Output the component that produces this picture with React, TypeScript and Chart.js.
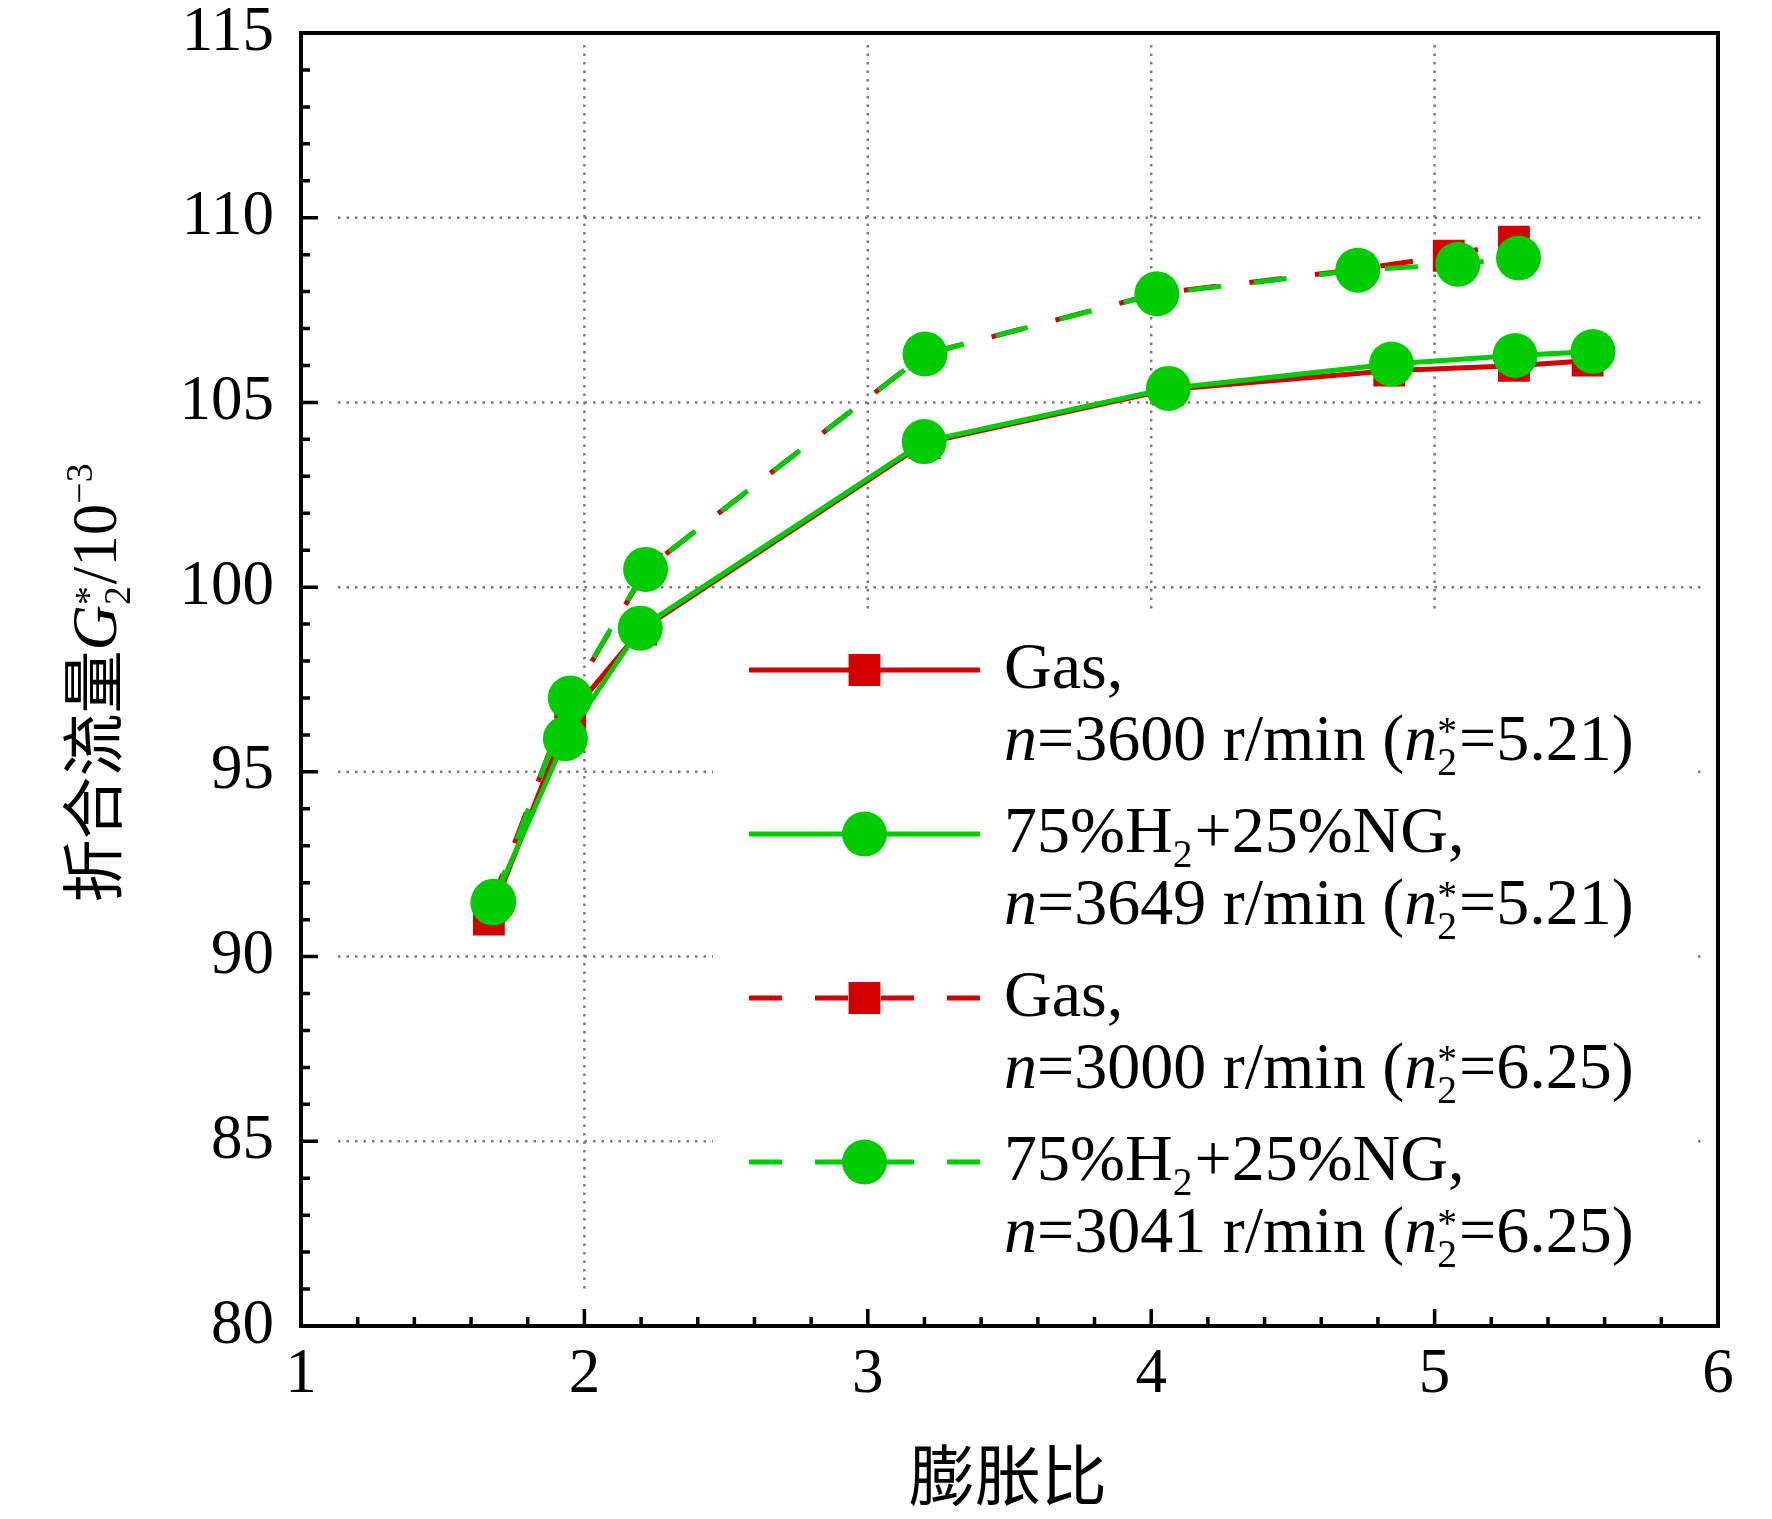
import React, { useEffect, useRef } from "react";
import { Chart, registerables, ChartConfiguration, Plugin } from "chart.js";
import { drawPoint } from "chart.js/helpers";

Chart.register(...registerables);

const RED = "#d40000";
const GREEN = "#00cc00";
const SERIF = "'Liberation Serif', 'Times New Roman', serif";
const CJK = "'Noto Sans CJK SC', 'Noto Sans CJK JP', sans-serif";

// Gas, n=3600 r/min (solid, squares)
const gas3600X = [1.663, 1.95, 2.2, 3.2, 4.06, 4.84, 5.28, 5.54];
const gas3600Y = [91.0, 96.55, 98.85, 103.9, 105.35, 105.86, 105.99, 106.13];
// 75%H2+25%NG, n=3649 r/min (solid, circles)
const h2n3649X = [1.677, 1.933, 2.197, 3.199, 4.061, 4.848, 5.284, 5.559];
const h2n3649Y = [91.45, 95.9, 98.89, 103.94, 105.38, 106.04, 106.27, 106.38];
// Gas, n=3000 r/min (dashed, squares)
const gas3000X = [1.67, 1.95, 2.22, 3.2, 4.02, 4.73, 5.05, 5.28];
const gas3000Y = [91.4, 97.0, 100.5, 106.3, 107.95, 108.6, 108.97, 109.35];
// 75%H2+25%NG, n=3041 r/min (dashed, circles)
const h2n3041X = [1.68, 1.95, 2.216, 3.202, 4.02, 4.729, 5.082, 5.296];
const h2n3041Y = [91.5, 97.0, 100.48, 106.31, 107.94, 108.58, 108.74, 108.91];

const xTicks = [1, 2, 3, 4, 5, 6];
const yTicks = [80, 85, 90, 95, 100, 105, 110, 115];

type Run = { t?: string; italic?: boolean; cjk?: boolean; sub?: string; sup?: string };

const legendEntries: { color: string; style: "rect" | "circle"; dashed: boolean; lines: Run[][] }[] = [
  {
    color: RED, style: "rect", dashed: false,
    lines: [[{ t: "Gas," }], [{ t: "n", italic: true }, { t: "=3600 r/min (" }, { t: "n", italic: true }, { sub: "2", sup: "*" }, { t: "=5.21)" }]],
  },
  {
    color: GREEN, style: "circle", dashed: false,
    lines: [[{ t: "75%H" }, { sub: "2" }, { t: "+25%NG," }], [{ t: "n", italic: true }, { t: "=3649 r/min (" }, { t: "n", italic: true }, { sub: "2", sup: "*" }, { t: "=5.21)" }]],
  },
  {
    color: RED, style: "rect", dashed: true,
    lines: [[{ t: "Gas," }], [{ t: "n", italic: true }, { t: "=3000 r/min (" }, { t: "n", italic: true }, { sub: "2", sup: "*" }, { t: "=6.25)" }]],
  },
  {
    color: GREEN, style: "circle", dashed: true,
    lines: [[{ t: "75%H" }, { sub: "2" }, { t: "+25%NG," }], [{ t: "n", italic: true }, { t: "=3041 r/min (" }, { t: "n", italic: true }, { sub: "2", sup: "*" }, { t: "=6.25)" }]],
  },
];

const yTitle: Run[] = [
  { t: "折合流量", cjk: true },
  { t: "G", italic: true },
  { sub: "2", sup: "*" },
  { t: "/10" },
  { sup: "\u22123" },
];

function drawRich(ctx: CanvasRenderingContext2D, runs: Run[], x: number, y: number, size: number, cjkSize: number, draw = true): number {
  let cx = x;
  const small = size * 0.6;
  for (const r of runs) {
    if (r.t !== undefined) {
      ctx.font = r.cjk ? `${cjkSize}px ${CJK}` : `${r.italic ? "italic " : ""}${size}px ${SERIF}`;
      if (draw) ctx.fillText(r.t, cx, y);
      cx += ctx.measureText(r.t).width;
      continue;
    }
    ctx.font = `${small}px ${SERIF}`;
    let w = 0;
    if (r.sub !== undefined) {
      if (draw) ctx.fillText(r.sub, cx, y + size * 0.22);
      w = Math.max(w, ctx.measureText(r.sub).width);
    }
    if (r.sup !== undefined) {
      const raise = r.sub !== undefined ? size * 0.24 : size * 0.38;
      if (draw) ctx.fillText(r.sup, cx, y - raise);
      w = Math.max(w, ctx.measureText(r.sup).width);
    }
    cx += w + size * 0.03;
  }
  return cx - x;
}

const decor: Plugin<"line"> = {
  id: "decor",
  beforeDatasetsDraw(chart) {
    const { ctx, chartArea: a } = chart;
    const xs = chart.scales.x;
    const ys = chart.scales.y;
    ctx.save();
    ctx.strokeStyle = "#7a7a7a";
    ctx.lineWidth = 2.5;
    ctx.setLineDash([2.5, 6]);
    ctx.beginPath();
    xTicks.slice(1, -1).forEach((v) => {
      const px = xs.getPixelForValue(v);
      ctx.moveTo(px, a.top + 12);
      ctx.lineTo(px, a.bottom - 36);
    });
    yTicks.slice(1, -1).forEach((v) => {
      const py = ys.getPixelForValue(v);
      ctx.moveTo(a.left + 37, py);
      ctx.lineTo(a.right - 15, py);
    });
    ctx.stroke();
    ctx.setLineDash([]);
    // legend background hides the grid behind it
    ctx.fillStyle = "#ffffff";
    ctx.fillRect(a.left + 412, a.top + 579, 985, 690);
    ctx.restore();
  },
  afterDatasetsDraw(chart) {
    const { ctx, chartArea: a } = chart;
    const xs = chart.scales.x;
    const ys = chart.scales.y;
    ctx.save();

    // legend
    const lx0 = 749, lx1 = 980, tx = 1004;
    legendEntries.forEach((e, i) => {
      const base = 688 + i * 164;
      const my = base - 18;
      ctx.strokeStyle = e.color;
      ctx.lineWidth = 5;
      ctx.setLineDash(e.dashed ? [33, 33] : []);
      ctx.beginPath();
      ctx.moveTo(lx0, my);
      ctx.lineTo(lx1, my);
      ctx.stroke();
      ctx.setLineDash([]);
      ctx.fillStyle = e.color;
      drawPoint(ctx, { pointStyle: e.style, radius: 22.5, rotation: 0, borderWidth: 0 }, (lx0 + lx1) / 2, my);
      ctx.fillStyle = "#000";
      ctx.textAlign = "left";
      ctx.textBaseline = "alphabetic";
      e.lines.forEach((ln, j) => drawRich(ctx, ln, tx, base + j * 72, 66, 66));
    });

    // frame
    ctx.strokeStyle = "#000";
    ctx.lineWidth = 4;
    ctx.strokeRect(a.left, a.top, a.right - a.left, a.bottom - a.top);

    // inward ticks on bottom and left
    ctx.lineWidth = 3.5;
    ctx.beginPath();
    for (let v = 1; v <= 6.0001; v += 0.2) {
      const px = xs.getPixelForValue(v);
      const major = Math.abs(v - Math.round(v)) < 1e-6;
      ctx.moveTo(px, a.bottom);
      ctx.lineTo(px, a.bottom - (major ? 17 : 9));
    }
    for (let v = 80; v <= 115; v += 1) {
      const py = ys.getPixelForValue(v);
      const major = v % 5 === 0;
      ctx.moveTo(a.left, py);
      ctx.lineTo(a.left + (major ? 17 : 9), py);
    }
    ctx.stroke();

    // axis titles
    ctx.fillStyle = "#000";
    ctx.textBaseline = "alphabetic";
    ctx.font = `66px ${CJK}`;
    ctx.textAlign = "center";
    ctx.fillText("膨胀比", 1008, 1500);

    ctx.textAlign = "left";
    ctx.translate(94, 682);
    ctx.rotate(-Math.PI / 2);
    const w = drawRich(ctx, yTitle, 0, 0, 63, 63, false);
    drawRich(ctx, yTitle, -w / 2, 22, 63, 63, true);
    ctx.restore();
  },
};

function App(): JSX.Element {
  const chartRef = useRef<HTMLCanvasElement | null>(null);
  const chartInstance = useRef<Chart | null>(null);

  useEffect(() => {
    if (!chartRef.current) return;
    const ctx = chartRef.current.getContext("2d");
    if (!ctx) return;
    if (chartInstance.current) chartInstance.current.destroy();

    const pts = (xs: number[], ys: number[]) => xs.map((x, i) => ({ x, y: ys[i] }));
    const series = (label: string, xs: number[], ys: number[], color: string, style: "rect" | "circle", dashed: boolean, order: number) => ({
      label,
      data: pts(xs, ys),
      borderColor: color,
      backgroundColor: color,
      borderWidth: 5,
      borderDash: dashed ? [33, 33] : [],
      pointStyle: style,
      pointRadius: 22.5,
      pointBorderWidth: 0,
      pointBackgroundColor: color,
      tension: 0,
      order,
    });

    const tickFont = { family: SERIF, size: 63, lineHeight: 1 };

    const config: ChartConfiguration<"line"> = {
      type: "line",
      data: {
        datasets: [
          series("Gas, n=3600 r/min", gas3600X, gas3600Y, RED, "rect", false, 2),
          series("75%H2+25%NG, n=3649 r/min", h2n3649X, h2n3649Y, GREEN, "circle", false, 0),
          series("Gas, n=3000 r/min", gas3000X, gas3000Y, RED, "rect", true, 3),
          series("75%H2+25%NG, n=3041 r/min", h2n3041X, h2n3041Y, GREEN, "circle", true, 1),
        ],
      },
      options: {
        animation: false,
        responsive: true,
        maintainAspectRatio: false,
        layout: { padding: { left: 0, top: 33, right: 54, bottom: 0 } },
        plugins: { legend: { display: false }, tooltip: { enabled: false } },
        scales: {
          x: {
            type: "linear",
            min: 1,
            max: 6,
            afterFit: (s) => { s.height = 193; s.paddingLeft = 0; s.paddingRight = 0; },
            afterBuildTicks: (s) => { s.ticks = xTicks.map((value) => ({ value })); },
            grid: { display: false, drawTicks: false },
            border: { display: false },
            ticks: { font: tickFont, color: "#000", padding: 18, maxRotation: 0 },
          },
          y: {
            type: "linear",
            min: 80,
            max: 115,
            afterFit: (s) => { s.width = 301; s.paddingTop = 0; s.paddingBottom = 0; },
            afterBuildTicks: (s) => { s.ticks = yTicks.map((value) => ({ value })); },
            grid: { display: false, drawTicks: false },
            border: { display: false },
            ticks: { font: tickFont, color: "#000", padding: 27 },
          },
        },
      },
      plugins: [decor],
    };

    chartInstance.current = new Chart(ctx, config);
    return () => {
      chartInstance.current?.destroy();
      chartInstance.current = null;
    };
  }, []);

  return (
    <div style={{ position: "absolute", left: 0, top: 0, width: 1772, height: 1519, background: "#fff" }}>
      <canvas ref={chartRef} />
    </div>
  );
}

export default App;
